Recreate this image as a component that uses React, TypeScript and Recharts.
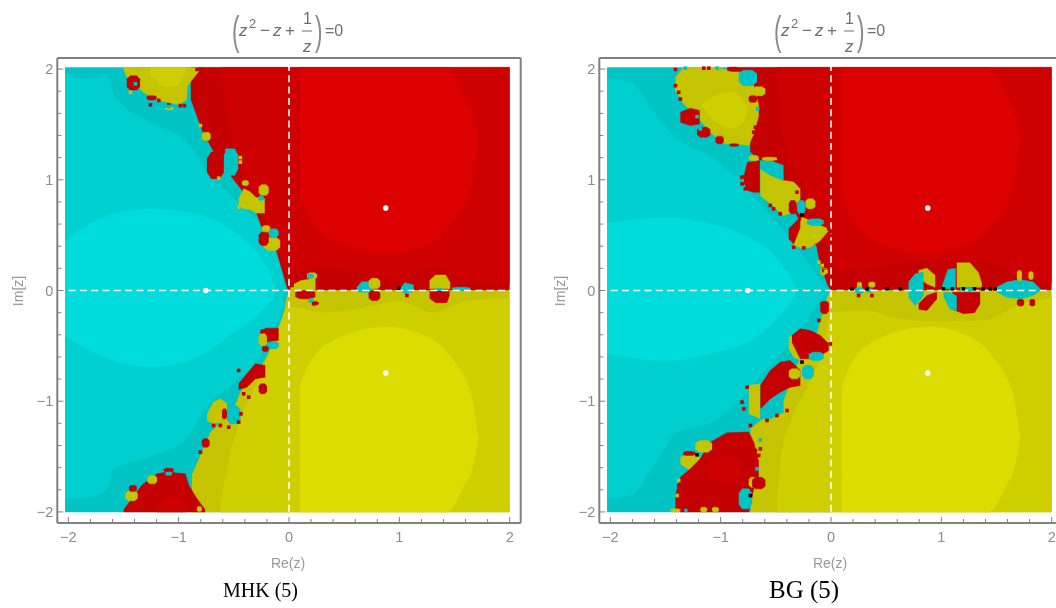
import React from 'react';
import { ComposedChart, Area, Scatter, XAxis, YAxis, ReferenceLine } from 'recharts';

type Row = number[];

const axisTicks = [-2, -1.8, -1.6, -1.4, -1.2, -1, -0.8, -0.6, -0.4, -0.2, 0, 0.2, 0.4, 0.6, 0.8, 1, 1.2, 1.4, 1.6, 1.8, 2];
const roots = [{ x: -0.755, y: 0 }, { x: 0.877, y: 0.745 }, { x: 0.877, y: -0.745 }];

const C = { c0: '#00c4c4', c1: '#00cfcf', c2: '#00dcdc', r0: '#c40000', r1: '#cf0000', r2: '#dc0000', y0: '#c4c400', y1: '#cfcf00', y2: '#dcdc00', k: '#000000' };

const wholeCyan: Row[] = [[-2.03, -2, 2.015], [0, -2, 2.015]];
const redCore: Row[] = [[0.1, 0.858, 2.015], [0.193, 0.648, 2.015], [0.435, 0.437, 2.015], [0.888, 0.33, 2.015], [1.34, 0.467, 2.015], [1.43, 0.56, 2.015], [1.61, 0.828, 1.72], [1.64, 0.9, 1.67], [1.715, 1.34, 1.34]];
const yellowCore: Row[] = [[0.1, -2, -0.858], [0.193, -2, -0.648], [0.435, -2, -0.437], [0.888, -2, -0.33], [1.34, -2, -0.467], [1.43, -2, -0.56], [1.61, -1.72, -0.828], [1.64, -1.67, -0.9], [1.715, -1.34, -1.34]];

// left panel
const p1RedBase: Row[] = [[-0.89, 1.73, 2.015], [-0.78, 1.43, 2.015], [-0.68, 1.25, 2.015], [-0.5, 1, 2.015], [-0.32, 0.77, 2.015], [-0.23, 0.53, 2.015], [-0.11, 0.35, 2.015], [-0.015, 0.02, 2.015], [0, 0, 2.015], [2, 0, 2.015]];
const p1YellowBase: Row[] = [[-0.88, -2, -1.67], [-0.71, -2, -1.28], [-0.5, -2, -1.07], [-0.44, -2, -0.92], [-0.23, -2, -0.65], [-0.08, -2, -0.37], [-0.02, -2, -0.07], [0, -2, 0], [2, -2, 0]];
const p1CyanMid: Row[] = [[-2.03, -1.88, 1.967], [-1.82, -1.87, 1.91], [-1.65, -1.79, 1.95], [-1.59, -1.62, 1.76], [-1.26, -1.5, 1.52], [-0.92, -1.32, 1.34], [-0.74, -1.05, 1.07], [-0.5, -0.83, 0.83], [-0.22, -0.53, 0.53], [-0.05, -0.14, 0.14]];
const p1CyanCore: Row[] = [[-2.03, -0.407, 0.44], [-1.71, -0.587, 0.648], [-1.26, -0.69, 0.738], [-0.8, -0.587, 0.678], [-0.5, -0.375, 0.53], [-0.26, -0.2, 0.3], [-0.16, -0.08, 0.12], [-0.12, 0, 0.01]];
const p1RedMid: Row[] = [[-0.62, 2.0, 2.015], [-0.55, 1.55, 2.015], [-0.45, 1.2, 2.015], [-0.25, 0.75, 2.015], [-0.1, 0.35, 2.015], [0, 0.15, 2.015], [0.3, 0.2, 2.015], [0.6, 0.17, 2.015], [1, 0.1, 2.015], [1.3, 0.2, 2.015], [1.6, 0.1, 2.015], [2, 0.07, 2.015]];
const p1YellowMid: Row[] = [[-0.62, -2, -1.95], [-0.55, -2, -1.55], [-0.45, -2, -1.2], [-0.25, -2, -0.75], [-0.1, -2, -0.35], [0, -2, -0.15], [0.3, -2, -0.2], [0.6, -2, -0.17], [1, -2, -0.1], [1.3, -2, -0.2], [1.6, -2, -0.1], [2, -2, -0.07]];
const p1TopBlob: Row[] = [[-1.5, 2.0, 2.015], [-1.47, 1.93, 2.015], [-1.32, 1.79, 2.015], [-1.2, 1.72, 2.015], [-1, 1.68, 2.015], [-0.93, 1.72, 2.015], [-0.92, 1.85, 2.015], [-0.84, 1.95, 2.015], [-0.8, 2.0, 2.015]];
const p1TopBlobInner: Row[] = [[-1.26, 1.95, 2.015], [-1.1, 1.84, 2.015], [-1, 1.87, 2.015], [-0.93, 2.0, 2.015]];
const p1LowBlob: Row[] = [[-1.498, -2, -1.98], [-1.33, -2, -1.755], [-1.196, -2, -1.656], [-1.105, -2, -1.64], [-0.939, -2, -1.656], [-0.909, -2, -1.76], [-0.834, -2, -1.88], [-0.76, -2, -1.98]];
const p1LowBlobInner: Row[] = [[-1.2, -2, -1.98], [-1.1, -2, -1.86], [-1, -2, -1.88], [-0.93, -2, -1.98]];
const p1YellowBlobs: Row[][] = [
  [[-0.456, 0.76, 0.83], [-0.41, 0.74, 0.92], [-0.35, 0.73, 0.89], [-0.3, 0.7, 0.84], [-0.22, 0.7, 0.83]],
  [[-0.743, -1.174, -1.114], [-0.683, -1.204, -1.008], [-0.622, -1.189, -0.978], [-0.562, -1.099, -1.024]],
  [[0.012, 0, 0.04], [0.11, 0, 0.09], [0.24, 0, 0.11]],
  [[1.274, 0.015, 0.09], [1.33, 0.015, 0.14], [1.42, 0.015, 0.14], [1.461, 0.015, 0.07]],
];
const p1RedBlobs: Row[][] = [
  [[-0.456, -0.894, -0.843], [-0.381, -0.873, -0.752], [-0.305, -0.798, -0.662], [-0.215, -0.783, -0.677]],
  [[-0.26, -0.4, -0.36], [-0.2, -0.465, -0.34], [-0.094, -0.45, -0.34]],
  [[1.274, -0.07, 0], [1.33, -0.11, 0], [1.43, -0.11, 0], [1.455, -0.04, 0]],
];
const p1CyanBlobs: Row[][] = [
  [[0.616, -0.01, 0.03], [0.66, -0.015, 0.08], [0.77, -0.02, 0.08]],
  [[1.01, 0, 0.02], [1.05, -0.03, 0.07], [1.13, -0.01, 0.05]],
];
// boxes are [x from, x to, low y, high y]
const p1RedBoxes: Row[] = [
  [-1.47, -1.35, 1.81, 1.94], [-1.29, -1.2, 1.72, 1.76], [-0.743, -0.59, 1.01, 1.25], [-0.275, -0.184, 0.407, 0.527],
  [-1.45, -1.38, -1.815, -1.76], [-1.135, -1.045, -1.64, -1.605], [-0.79, -0.72, -1.415, -1.34], [-0.607, -0.562, -1.159, -1.069],
  [-0.275, -0.2, -0.933, -0.843], [-0.245, -0.184, -0.55, -0.503], [0.057, 0.239, -0.075, 0], [0.208, 0.269, -0.13, -0.1], [0.722, 0.827, -0.09, 0],
];
const p1YellowBoxes: Row[] = [
  [-1.12, -1.045, 1.63, 1.655], [-0.79, -0.71, 1.355, 1.43], [-0.6, -0.555, 1.08, 1.19], [-0.275, -0.184, 0.86, 0.955], [-0.426, -0.365, 0.949, 0.994],
  [-0.245, -0.17, 0.527, 0.587], [-0.23, -0.08, 0.362, 0.482], [-1.483, -1.371, -1.9, -1.81], [-1.285, -1.196, -1.745, -1.67], [-0.834, -0.79, -1.995, -1.95],
  [-0.275, -0.2, -0.497, -0.39], [0.163, 0.254, 0.105, 0.16], [0.722, 0.827, 0.015, 0.11],
];
const p1CyanBoxes: Row[] = [
  [-0.59, -0.46, 1.04, 1.28], [-0.275, -0.23, 0.813, 0.858], [-0.184, -0.094, 0.482, 0.557], [-1.12, -1.06, -1.67, -1.64], [-0.562, -0.44, -1.204, -1.04],
  [-0.184, -0.094, -0.527, -0.46], [0.17, 0.224, 0.11, 0.15], [0.178, 0.224, -0.11, -0.07], [1.325, 1.4, 0, 0.02], [1.477, 1.643, 0, 0.03],
];
const p1RedSpecks = [[-1.256, 1.677], [-1.18, 1.717], [-1.09, 1.677], [-0.985, 1.67], [-0.948, 1.67], [-0.803, 2.0], [-0.833, 1.997], [-0.728, 1.16], [-0.728, 1.1], [-0.803, -1.46], [-0.435, -1.114], [-0.456, -1.189], [-0.547, -1.234], [-0.622, -1.219], [-0.683, -1.219], [-0.456, -0.722], [-0.411, -0.933], [-0.365, -0.963], [0.027, 0.045], [0.224, -0.12], [1.069, -0.045]];
const p1YellowSpecks = [[-0.803, 1.49], [-0.441, 1.16], [-0.441, 1.2], [-0.637, 1.015], [-1.437, 1.79], [-0.456, 0.753]];
const p1CyanSpecks = [[-1.392, 1.867], [-0.562, 1.265], [-1.09, 1.66]];
const p1BlackSpecks = [[0.994, 0.02]];

// right panel
const p2RedBase: Row[] = [[-0.94, 1.98, 2.015], [-0.73, 1.98, 2.015], [-0.73, 1.25, 2.015], [-0.55, 1.1, 2.015], [-0.45, 0.95, 2.015], [-0.3, 0.66, 2.015], [-0.13, 0.4, 2.015], [-0.1, 0.25, 2.015], [-0.03, 0.05, 2.015], [0, 0, 2.015], [2, 0, 2.015]];
const p2YellowBase: Row[] = [[-0.73, -2, -1.25], [-0.55, -2, -1.1], [-0.43, -2, -1], [-0.3, -2, -0.66], [-0.13, -2, -0.4], [-0.03, -2, -0.05], [0, -2, 0], [2, -2, 0]];
const p2CyanMid: Row[] = [[-2.03, -1.88, 1.91], [-1.82, -1.85, 1.88], [-1.606, -1.58, 1.61], [-1.395, -1.28, 1.37], [-1.06, -1.18, 1.19], [-0.82, -0.98, 0.98], [-0.61, -0.74, 0.74], [-0.37, -0.47, 0.47], [-0.11, -0.105, 0.105], [-0.036, 0, 0]];
const p2CyanCore: Row[] = [[-2.03, -0.57, 0.6], [-1.757, -0.617, 0.645], [-1.455, -0.632, 0.66], [-1.093, -0.57, 0.6], [-0.73, -0.45, 0.47], [-0.49, -0.255, 0.29], [-0.31, -0.02, 0.02]];
const p2RedMid: Row[] = [[-0.49, 2.0, 2.015], [-0.45, 1.5, 2.015], [-0.35, 1.15, 2.015], [-0.2, 0.85, 2.015], [-0.05, 0.45, 2.015], [0, 0.2, 2.015], [0.3, 0.18, 2.015], [0.6, 0.25, 2.015], [1, 0.28, 2.015], [1.4, 0.27, 2.015], [1.7, 0.13, 2.015], [2, 0.07, 2.015]];
const p2YellowMid: Row[] = [[-0.49, -2, -1.95], [-0.45, -2, -1.5], [-0.35, -2, -1.15], [-0.2, -2, -0.85], [-0.05, -2, -0.45], [0, -2, -0.2], [0.3, -2, -0.18], [0.6, -2, -0.25], [1, -2, -0.28], [1.4, -2, -0.27], [1.7, -2, -0.13], [2, -2, -0.07]];
const p2YellowBlobs: Row[][] = [
  [[-1.41, 1.807, 1.927], [-1.335, 1.686, 2.015], [-1.184, 1.536, 2.015], [-1.093, 1.43, 2.015], [-0.972, 1.325, 2.0], [-0.851, 1.325, 1.97], [-0.746, 1.31, 1.957], [-0.7, 1.415, 1.85], [-0.655, 1.58, 1.67]],
  [[-0.64, 0.858, 1.099], [-0.55, 0.783, 1.04], [-0.43, 0.677, 0.994], [-0.338, 0.708, 0.979], [-0.278, 0.828, 0.918]],
  [[-0.338, 0.406, 0.437], [-0.263, 0.382, 0.662], [-0.187, 0.391, 0.632], [-0.097, 0.452, 0.587], [-0.021, 0.542, 0.557]],
  [[-0.383, -0.527, -0.421], [-0.338, -0.602, -0.406], [-0.278, -0.632, -0.466]],
  [[-0.745, -1.114, -0.858], [-0.64, -1.159, -0.843]],
  [[-1.365, -1.566, -1.505], [-1.274, -1.626, -1.475], [-1.19, -1.611, -1.49]],
  [[0.794, 0.12, 0.181], [0.869, 0.06, 0.202], [0.945, 0.03, 0.136]],
  [[1.14, 0.03, 0.25], [1.2, 0.03, 0.25], [1.26, 0.03, 0.25], [1.337, 0.03, 0.16], [1.367, 0.03, 0.06]],
];
const p2YellowInner: Row[][] = [
  [[-1.17, 1.66, 1.68], [-1.05, 1.53, 1.76], [-0.9, 1.47, 1.79], [-0.8, 1.52, 1.72], [-0.76, 1.61, 1.63]],
];
const p2RedBlobs: Row[][] = [
  [[-1.365, 1.52, 1.61], [-1.274, 1.49, 1.647], [-1.19, 1.505, 1.626]],
  [[-0.79, 0.979, 1.024], [-0.757, 0.903, 1.159], [-0.7, 0.888, 1.164], [-0.645, 0.888, 1.174]],
  [[-0.383, 0.467, 0.557], [-0.338, 0.421, 0.602], [-0.278, 0.572, 0.662]],
  [[-0.354, -0.466, -0.406], [-0.278, -0.617, -0.346], [-0.187, -0.617, -0.361], [-0.097, -0.587, -0.406], [-0.021, -0.542, -0.482]],
  [[-0.64, -1.069, -0.858], [-0.55, -0.978, -0.722], [-0.46, -0.918, -0.647], [-0.37, -0.873, -0.632], [-0.278, -0.858, -0.722]],
  [[-1.41, -1.972, -1.852], [-1.365, -2, -1.686], [-1.274, -2, -1.611], [-1.184, -2, -1.52], [-1.093, -2, -1.37], [-0.942, -2, -1.285], [-0.746, -2, -1.279], [-0.7, -1.791, -1.37], [-0.655, -1.671, -1.55]],
  [[0.794, -0.17, -0.12], [0.869, -0.18, -0.045], [0.96, -0.075, -0.015]],
  [[1.1, -0.17, -0.015], [1.2, -0.21, -0.015], [1.3, -0.2, -0.015], [1.352, -0.12, -0.015]],
];
const p2RedInner: Row[][] = [
  [[-1.153, -1.6, -1.6], [-1.033, -1.716, -1.505], [-0.912, -1.761, -1.49], [-0.821, -1.671, -1.55]],
];
const p2CyanBlobs: Row[][] = [
  [[-0.64, 1.099, 1.174], [-0.55, 1.04, 1.174], [-0.43, 0.994, 1.129]],
  [[-0.64, -1.159, -1.069], [-0.55, -1.159, -1.039], [-0.43, -1.099, -0.993]],
  [[0.703, -0.06, 0.076], [0.764, -0.135, 0.151], [0.839, -0.045, 0.166]],
  [[1.005, 0.015, 0.03], [1.06, 0.015, 0.19], [1.13, 0.015, 0.2]],
  [[1.02, -0.05, -0.02], [1.08, -0.17, -0.02], [1.14, -0.18, -0.05]],
  [[1.503, -0.015, 0.03], [1.594, -0.06, 0.076], [1.715, -0.075, 0.1], [1.835, -0.045, 0.076], [1.896, 0, 0.015]],
];
const p2RedBoxes: Row[] = [
  [-0.94, -0.836, 1.98, 2.017], [-0.746, -0.67, 1.7, 1.76], [-1.214, -1.093, 1.385, 1.475], [-1.047, -0.972, 1.325, 1.394], [-0.918, -0.836, 1.303, 1.325],
  [-0.383, -0.31, 0.693, 0.813], [-0.715, -0.595, -1.791, -1.686], [-1.34, -1.23, -1.49, -1.454], [-0.097, -0.021, -0.141, -0.1],
  [-0.097, -0.02, -0.21, -0.105], [1.685, 1.75, -0.14, -0.08], [1.8, 1.85, -0.14, -0.08],
];
const p2YellowBoxes: Row[] = [
  [-0.82, -0.715, 1.807, 1.85], [-0.715, -0.595, 1.76, 1.84], [-0.746, -0.655, 1.174, 1.219], [-0.625, -0.49, 1.174, 1.204], [-0.232, -0.142, 0.738, 0.828],
  [-0.383, -0.278, -0.798, -0.707], [-0.746, -0.67, -1.776, -1.686], [-0.685, -0.64, -1.942, -1.882], [-1.455, -1.365, -2, -1.972], [-1.184, -1.123, -2, -1.957],
  [-1.078, -1.017, -2, -1.957], [-1.23, -1.078, -1.46, -1.355], [-0.097, -0.03, 0.14, 0.2], [0.235, 0.28, 0.015, 0.075], [0.34, 0.4, 0.03, 0.076], [1.685, 1.73, 0.09, 0.18], [1.79, 1.835, 0.1, 0.17],
];
const p2CyanBoxes: Row[] = [
  [-0.836, -0.67, 1.85, 1.99], [-0.308, -0.232, 0.693, 0.813], [-0.217, -0.066, 0.587, 0.647], [-0.202, -0.066, -0.632, -0.557], [-0.263, -0.157, -0.798, -0.677],
  [-0.836, -0.715, -1.972, -1.791], [-1.33, -1.3, -2, -1.972], [0.22, 0.296, -0.03, 0.03], [0.31, 0.386, -0.015, 0.015], [1.17, 1.29, -0.01, 0.03],
];
const p2RedSpecks = [[-1.41, 1.85], [-1.38, 1.79], [-1.365, 1.73], [-0.806, 1.024], [-0.806, 0.963], [-0.776, 0.918], [-0.278, 0.948], [-0.308, 0.888], [-0.55, 0.768], [-0.52, 0.738], [-0.46, 0.693], [-0.338, 0.39], [-0.247, 0.385], [-0.021, 0.557], [-0.006, 0.497], [-0.066, 0.18], [-0.036, 0.135], [-0.006, -0.482], [-0.64, -1.43], [-0.655, -1.49], [-0.685, -1.445], [-0.73, -1.219], [-0.806, -1.008], [-0.79, -1.069], [-0.76, -0.873], [-0.398, -1.084], [-0.49, -1.129], [-0.58, -1.174], [-0.11, -0.27], [0.25, -0.045], [0.371, -0.045], [-0.685, 1.475], [-0.7, 1.43], [-1.41, 1.996], [-1.153, 2.008], [-1.108, 2.008], [-1.38, -1.76]];
const p2YellowSpecks = [[-0.11, 0.256], [-0.08, 0.226], [-0.05, 0.17], [-1.395, -1.852], [-1.38, -1.716]];
const p2CyanSpecks = [[-1.214, 1.57], [-1.184, 1.46], [-0.64, -1.35], [-0.664, 1.64], [-1.32, 2.008], [-1.033, 2.008], [-0.67, -1.611]];
const p2BlackSpecks = [[-0.263, 0.683], [-0.263, -0.647], [-1.214, -1.484], [-0.73, -1.852], [0.19, 0.015], [0.326, 0.015], [0.507, 0.015], [0.628, 0.015], [1.02, 0.015], [1.1, 0.015], [1.2, 0.015], [1.3, 0.015], [1.38, 0.015], [1.443, 0.015], [1.488, 0.015]];

const toData = (rows: Row[]) => rows.map((r) => ({ x: r[0], r: [r[1], r[2]] }));
// cut the corners of a box so the patch reads as a blob
const boxData = (b: Row) => {
  const dx = (b[1] - b[0]) / 4;
  const dy = (b[3] - b[2]) / 4;
  return [
    { x: b[0], r: [b[2] + dy, b[3] - dy] },
    { x: b[0] + dx, r: [b[2], b[3]] },
    { x: b[1] - dx, r: [b[2], b[3]] },
    { x: b[1], r: [b[2] + dy, b[3] - dy] },
  ];
};
const speckData = (list: number[][]) => list.map((p) => ({ x: p[0], y: p[1] }));

const frameColor = '#808080';
const labelColor = '#8c8c8c';

const isMajor = (v: number) => Math.abs(v - Math.round(v)) < 0.01;
const fmt = (v: number) => (v < 0 ? '\u2212' : '') + Math.abs(Math.round(v));

const BottomTick = (p: any) => (
  <g>
    <line x1={p.x} x2={p.x} y1={p.y} y2={p.y - (isMajor(p.payload.value) ? 6 : 4)} stroke={frameColor} />
    {isMajor(p.payload.value) && <text x={p.x} y={p.y + 19} textAnchor="middle" fontSize={14.5} fill={labelColor} fontFamily="Liberation Sans">{fmt(p.payload.value)}</text>}
  </g>
);
const TopTick = (p: any) => <line x1={p.x} x2={p.x} y1={p.y} y2={p.y + (isMajor(p.payload.value) ? 6 : 4)} stroke={frameColor} />;
const LeftTick = (p: any) => (
  <g>
    <line x1={p.x} x2={p.x + (isMajor(p.payload.value) ? 6 : 4)} y1={p.y} y2={p.y} stroke={frameColor} />
    {isMajor(p.payload.value) && <text x={p.x - 4} y={p.y + 5} textAnchor="end" fontSize={14.5} fill={labelColor} fontFamily="Liberation Sans">{fmt(p.payload.value)}</text>}
  </g>
);
const RightTick = (p: any) => <line x1={p.x} x2={p.x - (isMajor(p.payload.value) ? 6 : 4)} y1={p.y} y2={p.y} stroke={frameColor} />;

const Square = (p: any) => <rect x={p.cx - 1.8} y={p.cy - 1.8} width={3.6} height={3.6} fill={p.fill} />;
const Dot = (p: any) => <circle cx={p.cx} cy={p.cy} r={2.8} fill="#ffffff" />;

const region = (rows: Row[], color: string, key: string, curve: any = 'linear') => (
  <Area key={key} data={toData(rows)} dataKey="r" fill={color} fillOpacity={1} stroke={color} strokeWidth={0.5} dot={false} activeDot={false} isAnimationActive={false} type={curve} />
);
const box = (b: Row, color: string, key: string) => (
  <Area key={key} data={boxData(b)} dataKey="r" fill={color} fillOpacity={1} stroke={color} strokeWidth={0.5} dot={false} activeDot={false} isAnimationActive={false} type="linear" />
);
const specks = (list: number[][], color: string, key: string) => (
  <Scatter key={key} data={speckData(list)} dataKey="y" fill={color} shape={Square} isAnimationActive={false} />
);

const axisCommon = { type: 'number' as const, domain: [-2.1, 2.1], ticks: axisTicks, interval: 0, tickLine: false, tickSize: 0, tickMargin: 0, axisLine: { stroke: frameColor, strokeWidth: 2 } };

const Panel = ({ left, items }: { left: number; items: React.ReactNode[] }) => (
  <div style={{ position: 'absolute', left, top: 0 }}>
    <ComposedChart width={540} height={560} margin={{ left: 56.3, right: 18.3, top: 57, bottom: 36 }}>
      <XAxis {...axisCommon} dataKey="x" tick={BottomTick} height={1} />
      <XAxis {...axisCommon} dataKey="x" xAxisId="top" orientation="top" tick={TopTick} height={1} />
      <YAxis {...axisCommon} tick={LeftTick} width={1} />
      <YAxis {...axisCommon} yAxisId="right" orientation="right" tick={RightTick} width={1} />
      {items}
      <ReferenceLine x={0} stroke="#ffffff" strokeWidth={1.6} strokeDasharray="7 4.3" />
      <ReferenceLine y={0} stroke="#ffffff" strokeWidth={1.6} strokeDasharray="7 4.3" />
      <Scatter data={roots} dataKey="y" shape={Dot} isAnimationActive={false} />
    </ComposedChart>
  </div>
);

const leftItems = [
  region(wholeCyan, C.c0, 'c0'), region(p1CyanMid, C.c1, 'c1', 'monotone'), region(p1CyanCore, C.c2, 'c2', 'monotone'),
  region(p1RedBase, C.r0, 'r0'), region(p1RedMid, C.r1, 'r1', 'monotone'), region(redCore, C.r2, 'r2', 'monotone'),
  region(p1YellowBase, C.y0, 'y0'), region(p1YellowMid, C.y1, 'y1', 'monotone'), region(yellowCore, C.y2, 'y2', 'monotone'),
  region(p1TopBlob, C.y0, 'tb'), region(p1TopBlobInner, C.y1, 'tbi', 'monotone'), region(p1LowBlob, C.r0, 'lb'), region(p1LowBlobInner, C.r1, 'lbi', 'monotone'),
  ...p1YellowBlobs.map((r, i) => region(r, C.y0, `yb${i}`)),
  ...p1RedBlobs.map((r, i) => region(r, C.r0, `rb${i}`)),
  ...p1CyanBlobs.map((r, i) => region(r, C.c0, `cb${i}`)),
  ...p1YellowBoxes.map((b, i) => box(b, C.y0, `yx${i}`)),
  ...p1RedBoxes.map((b, i) => box(b, C.r0, `rx${i}`)),
  ...p1CyanBoxes.map((b, i) => box(b, C.c0, `cx${i}`)),
  specks(p1RedSpecks, C.r0, 'rs'), specks(p1YellowSpecks, C.y0, 'ys'), specks(p1CyanSpecks, C.c0, 'cs'), specks(p1BlackSpecks, C.k, 'ks'),
];

const rightItems = [
  region(wholeCyan, C.c0, 'c0'), region(p2CyanMid, C.c1, 'c1', 'monotone'), region(p2CyanCore, C.c2, 'c2', 'monotone'),
  region(p2RedBase, C.r0, 'r0'), region(p2RedMid, C.r1, 'r1', 'monotone'), region(redCore, C.r2, 'r2', 'monotone'),
  region(p2YellowBase, C.y0, 'y0'), region(p2YellowMid, C.y1, 'y1', 'monotone'), region(yellowCore, C.y2, 'y2', 'monotone'),
  ...p2YellowBlobs.map((r, i) => region(r, C.y0, `yb${i}`)),
  ...p2YellowInner.map((r, i) => region(r, C.y1, `yi${i}`, 'monotone')),
  ...p2RedBlobs.map((r, i) => region(r, C.r0, `rb${i}`)),
  ...p2RedInner.map((r, i) => region(r, C.r1, `ri${i}`, 'monotone')),
  ...p2CyanBlobs.map((r, i) => region(r, C.c0, `cb${i}`)),
  ...p2YellowBoxes.map((b, i) => box(b, C.y0, `yx${i}`)),
  ...p2RedBoxes.map((b, i) => box(b, C.r0, `rx${i}`)),
  ...p2CyanBoxes.map((b, i) => box(b, C.c0, `cx${i}`)),
  specks(p2RedSpecks, C.r0, 'rs'), specks(p2YellowSpecks, C.y0, 'ys'), specks(p2CyanSpecks, C.c0, 'cs'), specks(p2BlackSpecks, C.k, 'ks'),
];

const textColor = '#6f6f6f';
const Title = ({ dx }: { dx: number }) => (
  <g transform={`translate(${dx},0)`} fill={textColor} fontFamily="Liberation Sans" fontSize={17}>
    <text transform="translate(232,45) scale(0.55,1)" fontSize={41} fill="#8a8a8a">(</text>
    <text x={239} y={36} fontStyle="italic">z</text>
    <text x={249} y={28} fontSize={13}>2</text>
    <text x={260} y={36}>{'\u2212'}</text>
    <text x={273} y={36} fontStyle="italic">z</text>
    <text x={285} y={36}>+</text>
    <text x={303} y={24} fontSize={16}>1</text>
    <line x1={302} x2={312} y1={31} y2={31} stroke={textColor} />
    <text x={303} y={52} fontStyle="italic">z</text>
    <text transform="translate(315,45) scale(0.55,1)" fontSize={41} fill="#8a8a8a">)</text>
    <text x={325} y={36} fontSize={16}>=0</text>
  </g>
);

export default function App() {
  return (
    <div style={{ position: 'absolute', left: 0, top: 0, width: 1056, height: 608, overflow: 'hidden', background: '#fff', filter: 'blur(0.4px)' }}>
      <Panel left={0} items={leftItems} />
      <Panel left={541.7} items={rightItems} />
      <svg width={1056} height={608} style={{ position: 'absolute', left: 0, top: 0 }}>
        <Title dx={0} />
        <Title dx={542} />
        <text x={288} y={568} textAnchor="middle" fontSize={14} fill="#999" fontFamily="Liberation Sans">Re(z)</text>
        <text x={830} y={568} textAnchor="middle" fontSize={14} fill="#999" fontFamily="Liberation Sans">Re(z)</text>
        <text transform="translate(23,291) rotate(-90)" textAnchor="middle" fontSize={14} fill="#999" fontFamily="Liberation Sans">Im[z]</text>
        <text transform="translate(565,291) rotate(-90)" textAnchor="middle" fontSize={14} fill="#999" fontFamily="Liberation Sans">Im[z]</text>
        <text x={223} y={597} fontSize={20} fill="#000" fontFamily="Liberation Serif">MHK (5)</text>
        <text x={769} y={598} fontSize={25} fill="#000" fontFamily="Liberation Serif">BG (5)</text>
      </svg>
    </div>
  );
}
